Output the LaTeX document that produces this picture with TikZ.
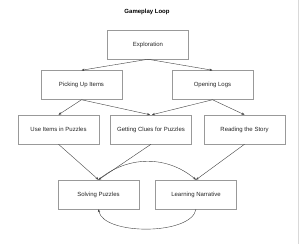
\documentclass[tikz,border=0pt]{standalone}
\usepackage{fontspec}
\setmainfont{Liberation Sans}
\usepackage{tikz}
\usetikzlibrary{positioning, arrows.meta}
\tikzset{
  >={Stealth[length=3pt, width=2.4pt]},
  gl edge/.style={draw=black!75, ->, line width=0.4pt},
  gl box/.style={draw=black!40, fill=white, minimum width=81pt, minimum height=29pt,
    inner sep=1pt, align=center, text=black!85, line width=0.5pt},
  gl title/.style={font=\fontsize{6}{7}\selectfont\bfseries},
}
\begin{document}
\begin{tikzpicture}[x=1pt, y=1pt, font=\fontsize{6}{7}\selectfont, node distance=11pt]
 \useasboundingbox (0,0) rectangle (300,-244);
 \draw[black!15, line width=0.8pt] (298.8,0) -- (298.8,-244);
 \node[gl title] (title) at (147,-12) {Gameplay Loop};
 \node[gl box] (explore) at (148,-44.5) {Exploration};
 \node[gl box] (pick) at (81.5,-85) {Picking Up Items};
 \node[gl box] (logs) at (212.5,-85) {Opening Logs};
 \node[gl box] (use) at (58.5,-129.5) {Use Items in Puzzles};
 \node[gl box, right=11pt of use] (clues) {Getting Clues for Puzzles};
 \node[gl box, right=12pt of clues] (story) {Reading the Story};
 \node[gl box] (solve) at (98.5,-194.5) {Solving Puzzles};
 \node[gl box, right=16pt of solve] (learn) {Learning Narrative};
 \draw[gl edge] (explore.south) -- (pick.north);
 \draw[gl edge] (explore.south) -- (logs.north);
 \draw[gl edge] (pick.south) -- (use.north);
 \draw[gl edge] (pick.south) -- ([xshift=-1pt]clues.north);
 \draw[gl edge] (logs.south) -- ([xshift=1pt]clues.north);
 \draw[gl edge] (logs.south) -- (story.north);
 \draw[gl edge] (use.south) -- (solve.north);
 \draw[gl edge] (clues.south) -- (solve.north);
 \draw[gl edge] (story.south) -- (learn.north);
 \draw[gl edge] (solve.north) to[out=40, in=140] (learn.north);
 \draw[gl edge] (learn.south) to[out=-100, in=-80, looseness=0.7] (solve.south);
\end{tikzpicture}
\end{document}
